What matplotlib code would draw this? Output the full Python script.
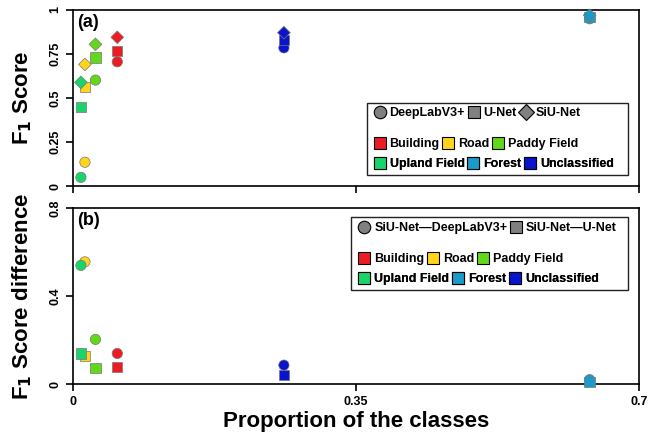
import matplotlib
matplotlib.use('Agg')
import matplotlib.pyplot as plt
from matplotlib.lines import Line2D
from matplotlib.patches import Rectangle
import numpy as np

plt.rcParams['font.family'] = ['Liberation Sans', 'DejaVu Sans']
plt.rcParams['font.weight'] = 'bold'

# classes, their share of the study area and per-model F1 scores
classes = ['Building', 'Road', 'Paddy Field', 'Upland Field', 'Forest', 'Unclassified']
colors = ['#ec1c24', '#ffd51c', '#62d81a', '#19d46a', '#1a9bc9', '#0a14cc']
proportion = [0.055, 0.015, 0.028, 0.010, 0.639, 0.261]
f1_deeplab = [0.706, 0.136, 0.602, 0.050, 0.950, 0.785]
f1_unet = [0.767, 0.564, 0.731, 0.450, 0.960, 0.830]
f1_siunet = [0.845, 0.691, 0.805, 0.589, 0.970, 0.871]

models = ['DeepLabV3+', 'U-Net', 'SiU-Net']
model_markers = ['o', 's', 'D']
diff_labels = ['SiU-Net\u2014DeepLabV3+', 'SiU-Net\u2014U-Net']

x = np.array(proportion)
diff_deeplab = np.array(f1_siunet) - np.array(f1_deeplab)
diff_unet = np.array(f1_siunet) - np.array(f1_unet)

fig = plt.figure(figsize=(6.56, 4.34), dpi=100)
ax1 = fig.add_axes([0.111, 0.571, 0.863, 0.406])
ax2 = fig.add_axes([0.111, 0.115, 0.863, 0.406])

for vals, m in zip([f1_deeplab, f1_unet, f1_siunet], model_markers):
    s = 42 if m == 'D' else 55
    ax1.scatter(x, vals, c=colors, marker=m, s=s, edgecolors='#777777',
                linewidths=0.5, zorder=3, clip_on=False)

for vals, m in zip([diff_deeplab, diff_unet], ['o', 's']):
    ax2.scatter(x, vals, c=colors, marker=m, s=55, edgecolors='#777777',
                linewidths=0.5, zorder=3, clip_on=False)

ax1.set_ylim(0, 1)
ax1.set_yticks([0, 0.25, 0.5, 0.75, 1])
ax1.set_yticklabels(['0', '0.25', '0.5', '0.75', '1'])
ax2.set_ylim(0, 0.8)
ax2.set_yticks([0, 0.4, 0.8])
ax2.set_yticklabels(['0', '0.4', '0.8'])

for ax in (ax1, ax2):
    ax.set_xlim(0, 0.7)
    ax.set_xticks([0, 0.35, 0.7])
    ax.tick_params(direction='out', length=5, width=1.2, labelsize=9)
    for lab in ax.get_yticklabels():
        lab.set_rotation(90)
        lab.set_va('center')
    for sp in ax.spines.values():
        sp.set_linewidth(1.2)
ax1.set_xticklabels([])
ax2.set_xticklabels(['0', '0.35', '0.7'])

ax1.set_ylabel('F$_\\mathbf{1}$ Score', fontsize=16, fontweight='bold')
ax2.set_ylabel('F$_\\mathbf{1}$ Score difference', fontsize=16, fontweight='bold')
ax2.set_xlabel('Proportion of the classes', fontsize=16, fontweight='bold', labelpad=2)
ax1.yaxis.set_label_coords(-0.068, 0.5)
ax2.yaxis.set_label_coords(-0.068, 0.5)

ax1.text(0.008, 0.975, '(a)', transform=ax1.transAxes, fontsize=13,
         fontweight='bold', va='top', ha='left')
ax2.text(0.008, 0.975, '(b)', transform=ax2.transAxes, fontsize=13,
         fontweight='bold', va='top', ha='left')


def shape_handle(m):
    return Line2D([], [], marker=m, linestyle='none', markersize=9 if m != 'D' else 8,
                  markerfacecolor='#808080', markeredgecolor='black', markeredgewidth=0.8)


def class_handle(c):
    return Line2D([], [], marker='s', linestyle='none', markersize=9,
                  markerfacecolor=c, markeredgecolor='black', markeredgewidth=0.8)


def row_legend(ax, handles, labels, x0, y):
    leg = ax.legend(handles, labels, ncol=len(handles), loc='center left',
                    bbox_to_anchor=(x0, y), frameon=False, fontsize=9,
                    handlelength=0.9, handletextpad=0.35, columnspacing=0.25,
                    borderpad=0, borderaxespad=0)
    ax.add_artist(leg)


def add_legends(ax, shape_h, shape_l, box, rows_y):
    x0 = box[0] + 0.013
    row_legend(ax, shape_h, shape_l, x0, rows_y[0])
    ch = [class_handle(c) for c in colors]
    row_legend(ax, ch[:3], classes[:3], x0, rows_y[1])
    row_legend(ax, ch[3:], classes[3:], x0, rows_y[2])
    ax.add_patch(Rectangle((box[0], box[1]), box[2] - box[0], box[3] - box[1],
                           transform=ax.transAxes, fill=False, edgecolor='#222222',
                           linewidth=1.0, zorder=5))


add_legends(ax1, [shape_handle(m) for m in model_markers], models,
            (0.519, 0.0625, 0.981, 0.472), (0.415, 0.239, 0.125))
add_legends(ax2, [shape_handle('o'), shape_handle('s')], diff_labels,
            (0.492, 0.534, 0.981, 0.947), (0.885, 0.709, 0.597))

fig.savefig('out.png', dpi=100)
